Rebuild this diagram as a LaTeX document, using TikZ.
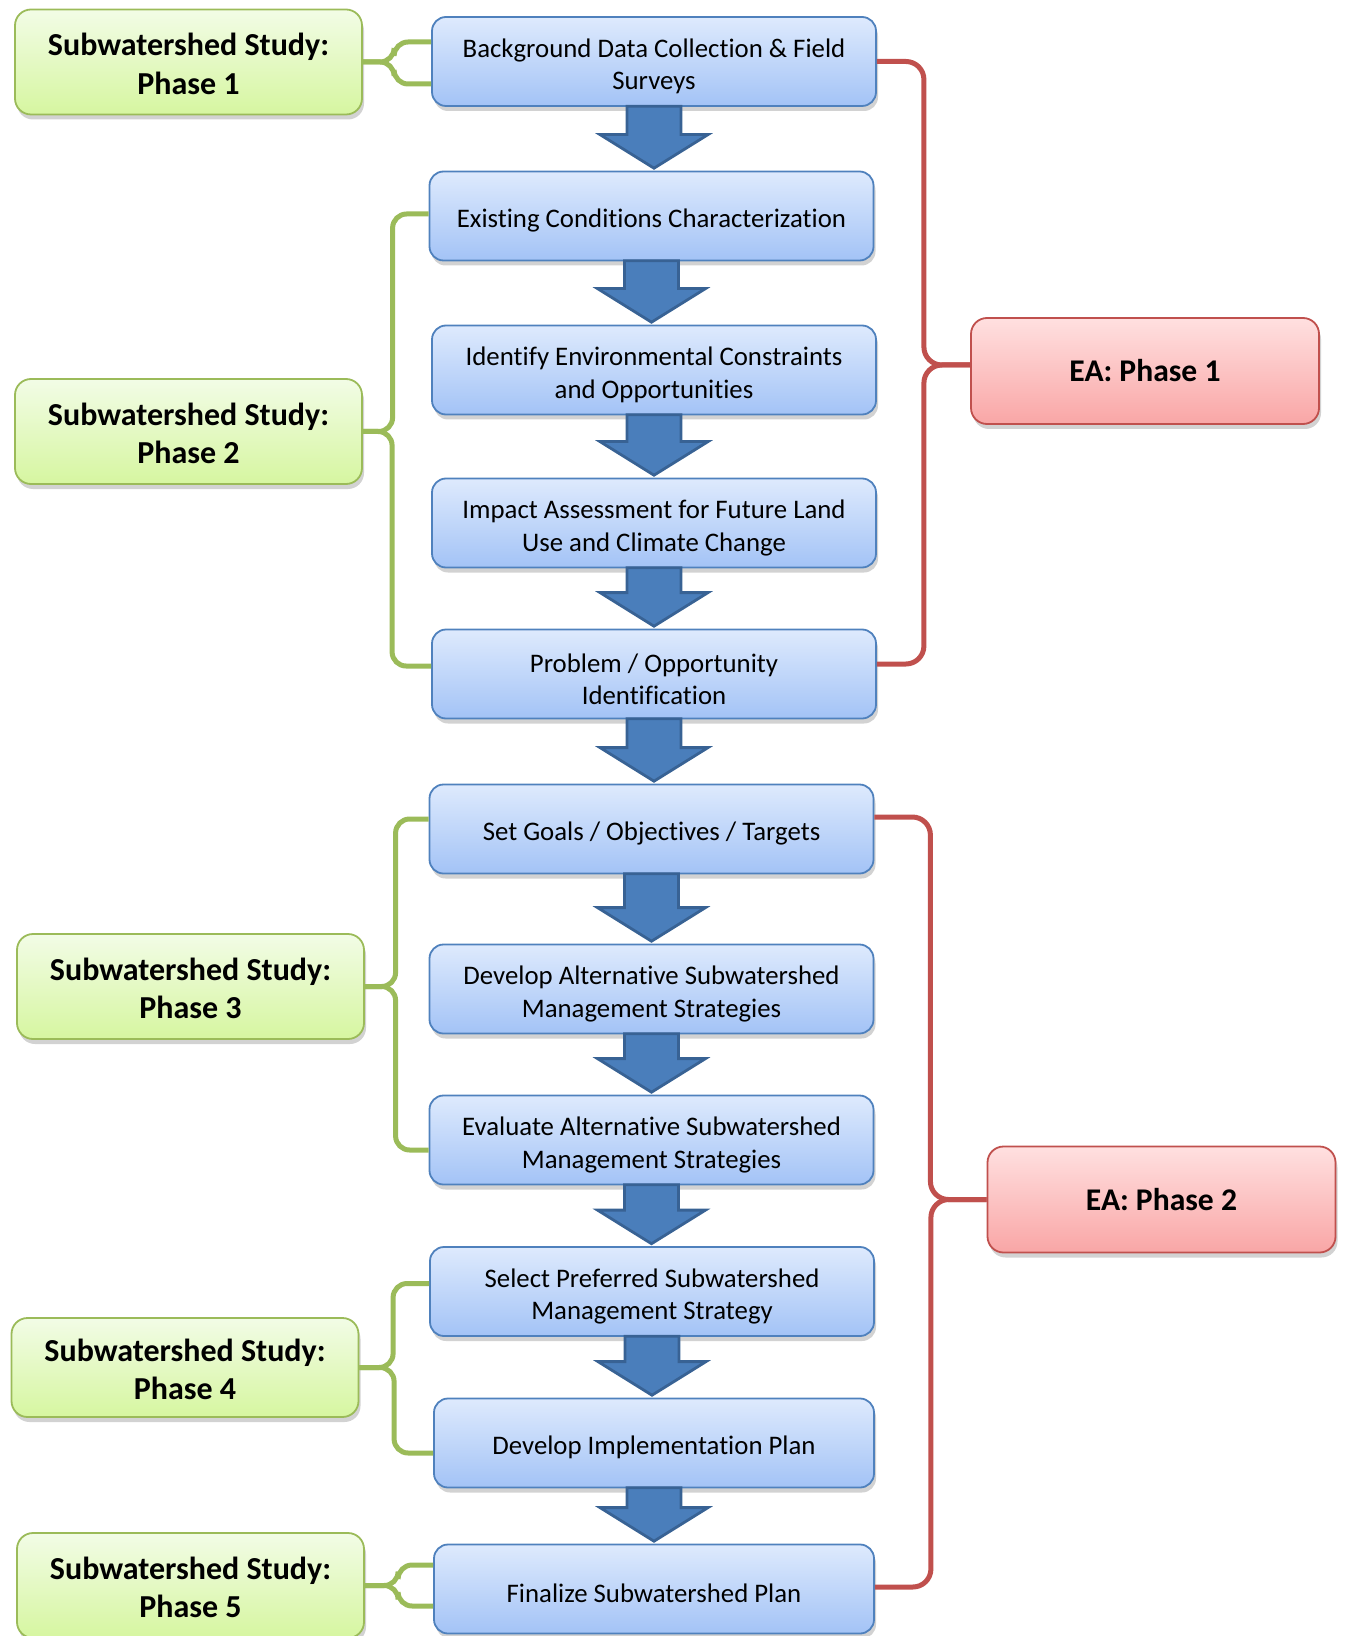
\documentclass[tikz,border=0pt]{standalone}
\usepackage{fontspec}
\setmainfont{Carlito}[Ligatures=CommonOff]
\usetikzlibrary{shadows,calc}
\definecolor{bluetop}{RGB}{222,234,253}
\definecolor{bluebot}{RGB}{163,195,246}
\definecolor{blueline}{RGB}{79,129,189}
\definecolor{greentop}{RGB}{242,252,230}
\definecolor{greenbot}{RGB}{214,246,160}
\definecolor{greenline}{RGB}{155,187,89}
\definecolor{redtop}{RGB}{255,224,224}
\definecolor{redbot}{RGB}{249,166,166}
\definecolor{redline}{RGB}{192,80,77}
\definecolor{arrfill}{RGB}{74,126,187}
\definecolor{arrline}{RGB}{56,98,148}
\tikzset{
  boxshadow/.style={drop shadow={shadow xshift=1pt,shadow yshift=-2.5pt,opacity=0.25,fill=black!70}},
  bluebox/.style={rectangle, rounded corners=7pt, draw=blueline, line width=0.9pt,
    top color=bluetop, bottom color=bluebot, boxshadow,
    minimum width=222pt, minimum height=44.5pt, align=center,
    font=\fontsize{13.4}{16.2}\selectfont, inner sep=2pt,
    execute at begin node={\rule{0pt}{13.5pt}}},
  bluetwo/.style={bluebox, execute at begin node={\rule{0pt}{30.5pt}}},
  greenbox/.style={rectangle, rounded corners=8pt, draw=greenline, line width=0.9pt,
    top color=greentop, bottom color=greenbot, boxshadow,
    minimum width=173.5pt, minimum height=52.5pt, align=center,
    font=\fontsize{16}{19.3}\selectfont\bfseries, inner sep=2pt,
    execute at begin node={\rule{0pt}{32.5pt}}},
  redbox/.style={rectangle, rounded corners=8pt, draw=redline, line width=0.9pt,
    top color=redtop, bottom color=redbot, boxshadow,
    minimum width=174pt, minimum height=53pt, align=center,
    font=\fontsize{15.8}{19.3}\selectfont\bfseries, inner sep=2pt},
  gbrace/.style={draw=greenline, line width=2.5pt, rounded corners=7pt},
  rbrace/.style={draw=redline, line width=2.5pt, rounded corners=9pt},
  barrow/.style={fill=arrfill, draw=arrline, line width=1.4pt, line join=miter},
}
\newcommand\blockarr[2]{%
  \draw[barrow] let \p1=(#1.south), \p2=(#2.north) in
    (\x1-13.5pt,\y1+0.3pt) -- (\x1+13.5pt,\y1+0.3pt) -- (\x1+13.5pt,\y2+18pt)
    -- (\x1+27pt,\y2+18pt) -- (\x1,\y2+1.2pt) -- (\x1-27pt,\y2+18pt)
    -- (\x1-13.5pt,\y2+18pt) -- cycle;}
\begin{document}
\begin{tikzpicture}[x=0.5pt,y=-0.5pt]
\useasboundingbox (0,0) rectangle (1348,1636);
% blue process boxes
\node[bluetwo] (bg) at (654,61.5) {Background Data Collection \& Field\\Surveys};
\node[bluebox] (ex) at (651.5,216) {Existing Conditions Characterization};
\node[bluetwo] (id) at (654,370) {Identify Environmental Constraints\\and Opportunities};
\node[bluetwo] (im) at (654,523) {Impact Assessment for Future Land\\Use and Climate Change};
\node[bluetwo] (pr) at (654,674) {Problem / Opportunity\\Identification};
\node[bluebox] (sg) at (651.5,829) {Set Goals / Objectives / Targets};
\node[bluetwo] (da) at (651.5,989) {Develop Alternative Subwatershed\\Management Strategies};
\node[bluetwo] (ev) at (651.5,1140) {Evaluate Alternative Subwatershed\\Management Strategies};
\node[bluetwo] (se) at (652,1291.5) {Select Preferred Subwatershed\\Management Strategy};
\node[bluebox, minimum width=220pt] (di) at (654,1443) {Develop Implementation Plan};
\node[bluebox, minimum width=220pt] (fi) at (654,1589) {Finalize Subwatershed Plan};
% green phase boxes
\node[greenbox] (g1) at (188.5,62) {Subwatershed Study:\\Phase 1};
\node[greenbox] (g2) at (188.5,431.5) {Subwatershed Study:\\Phase 2};
\node[greenbox] (g3) at (190.5,986.5) {Subwatershed Study:\\Phase 3};
\node[greenbox, minimum height=49.5pt] (g4) at (185,1367.5) {Subwatershed Study:\\Phase 4};
\node[greenbox] (g5) at (190.5,1585.5) {Subwatershed Study:\\Phase 5};
% red EA boxes
\node[redbox] (r1) at (1145,371) {EA: Phase 1};
\node[redbox] (r2) at (1161.5,1199.5) {EA: Phase 2};
% block arrows
\blockarr{bg}{ex}
\blockarr{ex}{id}
\blockarr{id}{im}
\blockarr{im}{pr}
\blockarr{pr}{sg}
\blockarr{sg}{da}
\blockarr{da}{ev}
\blockarr{ev}{se}
\blockarr{se}{di}
\blockarr{di}{fi}
% green braces
\draw[gbrace] ($(bg.west)+(0,-19.5)$) -- ++(-37,0) |- (g1.east);
\draw[gbrace] ($(bg.west)+(0,22.5)$) -- ++(-37,0) |- (g1.east);
\draw[gbrace] ($(ex.west)+(0,-2)$) -- ++(-36,0) |- (g2.east);
\draw[gbrace] ($(pr.west)+(0,-8)$) -- ++(-39,0) |- (g2.east);
\draw[gbrace] ($(sg.west)+(0,-10)$) -- ++(-33,0) |- (g3.east);
\draw[gbrace] ($(ev.west)+(0,10)$) -- ++(-33,0) |- (g3.east);
\draw[gbrace] ($(se.west)+(0,-8)$) -- ++(-36,0) |- (g4.east);
\draw[gbrace] ($(di.west)+(0,10)$) -- ++(-39,0) |- (g4.east);
\draw[gbrace] ($(fi.west)+(0,-24)$) -- ++(-35,0) |- (g5.east);
\draw[gbrace] ($(fi.west)+(0,17)$) -- ++(-35,0) |- (g5.east);
% red braces
\draw[rbrace] (bg.east) -- ++(47,0) |- ($(r1.west)+(0,-6)$);
\draw[rbrace] ($(pr.east)+(0,-10)$) -- ++(47,0) |- ($(r1.west)+(0,-6)$);
\draw[rbrace] ($(sg.east)+(0,-12)$) -- ++(56,0) |- (r2.west);
\draw[rbrace] ($(fi.east)+(0,-2)$) -- ++(56,0) |- (r2.west);
\end{tikzpicture}
\end{document}
